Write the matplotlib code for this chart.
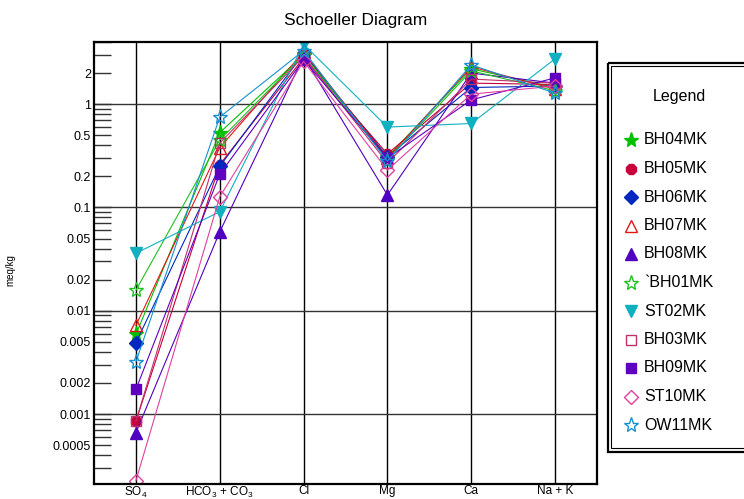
import numpy as np
import matplotlib
matplotlib.use('Agg')
import matplotlib.pyplot as plt
from matplotlib.patches import Rectangle
from matplotlib.ticker import FixedLocator, FixedFormatter, NullFormatter

plt.rcParams['font.family'] = ['Liberation Sans', 'DejaVu Sans']
plt.rcParams['mathtext.default'] = 'regular'

ions = [r'SO$_4$', r'HCO$_3$ + CO$_3$', 'Cl', 'Mg', 'Ca', 'Na + K']

samples = ['BH04MK', 'BH05MK', 'BH06MK', 'BH07MK', 'BH08MK', '`BH01MK',
           'ST02MK', 'BH03MK', 'BH09MK', 'ST10MK', 'OW11MK']

# meq/kg per ion: SO4, HCO3+CO3, Cl, Mg, Ca, Na+K
bh04 = [0.0059, 0.53, 3.0, 0.31, 2.2, 1.45]
bh05 = [0.00085, 0.26, 2.8, 0.33, 1.6, 1.55]
bh06 = [0.0049, 0.25, 3.1, 0.31, 1.45, 1.5]
bh07 = [0.0072, 0.38, 3.2, 0.30, 2.3, 1.4]
bh08 = [0.00066, 0.058, 2.9, 0.132, 2.0, 1.6]
bh01 = [0.0158, 0.45, 3.0, 0.29, 2.1, 1.35]
st02 = [0.036, 0.091, 3.8, 0.60, 0.65, 2.75]
bh03 = [0.00085, 0.42, 2.9, 0.27, 1.75, 1.6]
bh09 = [0.00173, 0.21, 2.7, 0.30, 1.1, 1.8]
st10 = [0.000226, 0.127, 2.6, 0.23, 1.25, 1.5]
ow11 = [0.0032, 0.75, 3.3, 0.28, 2.4, 1.28]
values = [bh04, bh05, bh06, bh07, bh08, bh01, st02, bh03, bh09, st10, ow11]

# (color, marker, size, filled)
styles = [
    ('#00c000', '*', 11, True),
    ('#c8003c', '8', 8, True),
    ('#0028c0', 'D', 7, True),
    ('#e01818', '^', 8, False),
    ('#5000c0', '^', 8, True),
    ('#20c020', '*', 11, False),
    ('#10b0c0', 'v', 8, True),
    ('#c0306a', 's', 7, False),
    ('#6000c0', 's', 7, True),
    ('#e040a0', 'D', 7, False),
    ('#1890d0', '*', 11, False),
]

fig = plt.figure(figsize=(7.44, 4.99), dpi=100)
ax = fig.add_axes([94 / 744, 15 / 499, 503 / 744, 442 / 499])

x = np.arange(len(ions))
for name, vals, (c, m, ms, filled) in zip(samples, values, styles):
    ax.plot(x, vals, color=c, lw=0.8, marker=m, ms=ms,
            mfc=c if filled else 'none', mec=c, mew=1.0, label=name)

ax.set_yscale('log')
ax.set_xlim(-0.5, 5.5)
ax.set_ylim(2.1e-4, 4.0)

major = [0.0005, 0.001, 0.002, 0.005, 0.01, 0.02, 0.05, 0.1, 0.2, 0.5, 1, 2]
major_labels = ['0.0005', '0.001', '0.002', '0.005', '0.01', '0.02',
                '0.05', '0.1', '0.2', '0.5', '1', '2']
minor = [s * dec for dec in [1e-4, 1e-3, 1e-2, 1e-1, 1] for s in [3, 4, 6, 7, 8, 9]]
ax.yaxis.set_major_locator(FixedLocator(major))
ax.yaxis.set_major_formatter(FixedFormatter(major_labels))
ax.yaxis.set_minor_locator(FixedLocator(minor))
ax.yaxis.set_minor_formatter(NullFormatter())
ax.tick_params(axis='y', which='both', direction='in', length=12, width=1,
               color='#333333', labelsize=9, pad=2)

ax.set_xticks(x)
ax.set_xticklabels(ions)
ax.tick_params(axis='x', length=0, labelsize=8.5, pad=1)

for xi in x:
    ax.axvline(xi, color='black', lw=1, zorder=0.5)
for dec in [1e-3, 1e-2, 1e-1, 1]:
    ax.axhline(dec, color='#333333', lw=1, zorder=0.5)

for sp in ax.spines.values():
    sp.set_linewidth(1.6)
    sp.set_color('black')

ax.set_ylabel('meq/kg', fontsize=7)
ax.yaxis.set_label_coords(-0.157, 0.484)

fig.text(356 / 744, 1 - 20 / 499, 'Schoeller Diagram', ha='center', va='center', fontsize=12.5)

# legend panel with a double frame
lax = fig.add_axes([607 / 744, 47 / 499, 150 / 744, 390 / 499])
lax.set_xlim(0, 150)
lax.set_ylim(390, 0)
lax.axis('off')
lax.add_patch(Rectangle((0.5, 0.5), 160, 389, fill=False, ec='black', lw=1.6, clip_on=False))
lax.add_patch(Rectangle((4, 4), 160, 382, fill=False, ec='black', lw=0.8, clip_on=False))
lax.text(72, 34, 'Legend', ha='center', va='center', fontsize=11.5)
for i, (name, (c, m, ms, filled)) in enumerate(zip(samples, styles)):
    yy = 78 + 28.5 * i
    lax.plot([24], [yy], marker=m, ms=ms, color=c, mfc=c if filled else 'none',
             mec=c, mew=1.0, clip_on=False)
    lax.text(37, yy, name, ha='left', va='center', fontsize=11.5)

fig.savefig('out.png', dpi=100)
